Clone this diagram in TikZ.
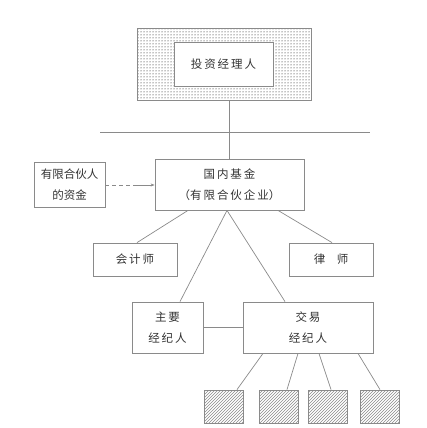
\documentclass[tikz,border=0pt]{standalone}
\usepackage{fontspec}
\setmainfont{Noto Sans CJK SC}
\usetikzlibrary{patterns,arrows.meta,calc}
\definecolor{ln}{HTML}{8A8A8A}
\definecolor{tx}{HTML}{333333}
\tikzset{
  box/.style={draw=ln, line width=0.8pt, fill=white, rectangle, inner sep=0pt, align=center, text=tx, font=\fontsize{11.5}{20.5}\selectfont},
  link/.style={draw=ln, line width=0.7pt},
  hatchbox/.style={draw=ln, line width=0.8pt, pattern=north east lines, pattern color=ln, minimum width=39pt, minimum height=33pt, inner sep=0pt},
}
\begin{document}
\begin{tikzpicture}[x=1pt,y=-1pt]
\useasboundingbox (0,0) rectangle (427,428);
% top
\node[draw=ln, line width=0.8pt, pattern=dots, pattern color=black, minimum width=174pt, minimum height=72pt, inner sep=0pt] (outer) at (224,64) {};
\node[box, minimum width=99pt, minimum height=44pt] (mgr) at (223.5,64) {投\,资\,经\,理\,人};
% fund
\node[box, minimum width=149pt, minimum height=51pt] (fund) at (229.5,184.5) {国\,内\,基\,金\\（有\,限\,合\,伙\,企\,业）};
\node[box, minimum width=71pt, minimum height=45pt] (partner) at (69.5,184.5) {有限合伙人\\的资金};
\node[box, minimum width=84pt, minimum height=33pt] (acct) at (135,259.5) {会\,计\,师};
\node[box, minimum width=84pt, minimum height=33pt] (law) at (331,259.5) {律\quad 师};
\node[box, minimum width=71pt, minimum height=51pt] (main) at (167.5,327.5) {主\,要\\经\,纪\,人};
\node[box, minimum width=130pt, minimum height=51pt] (trade) at (308,327.5) {交\,易\\经\,纪\,人};
\node[hatchbox] (h1) at (223.5,406.5) {};
\node[hatchbox] (h2) at (278.5,406.5) {};
\node[hatchbox] (h3) at (327.5,406.5) {};
\node[hatchbox] (h4) at (380,406.5) {};
% lines
\coordinate (hl1) at (100,132);
\coordinate (hl2) at (370,132);
\draw[link] (hl1) -- (hl2);
\draw[link] (fund.north) -- (fund.north |- outer.south);
\coordinate (dashend) at (135,185);
\draw[link, dashed, dash pattern=on 4pt off 3pt] (partner.east |- dashend) -- (dashend);
\draw[link, -{Stealth[length=4pt,width=3pt]}] (dashend) -- (fund.west |- dashend);
\draw[link] ([xshift=-41.5pt]fund.south) -- ([xshift=2pt]acct.north);
\draw[link] ([xshift=48.5pt]fund.south) -- ([xshift=1pt]law.north);
\draw[link] ([xshift=-2.5pt]fund.south) -- ([xshift=12.5pt]main.north);
\draw[link] ([xshift=-2.5pt]fund.south) -- ([xshift=-23pt]trade.north);
\draw[link] (main.east) -- (trade.west);
\draw[link] ([xshift=-45pt]trade.south) -- ([xshift=13.5pt]h1.north);
\draw[link] ([xshift=-10pt]trade.south) -- ([xshift=8.5pt]h2.north);
\draw[link] ([xshift=11pt]trade.south) -- ([xshift=3.5pt]h3.north);
\draw[link] ([xshift=50pt]trade.south) -- ([xshift=0pt]h4.north);
\end{tikzpicture}
\end{document}
